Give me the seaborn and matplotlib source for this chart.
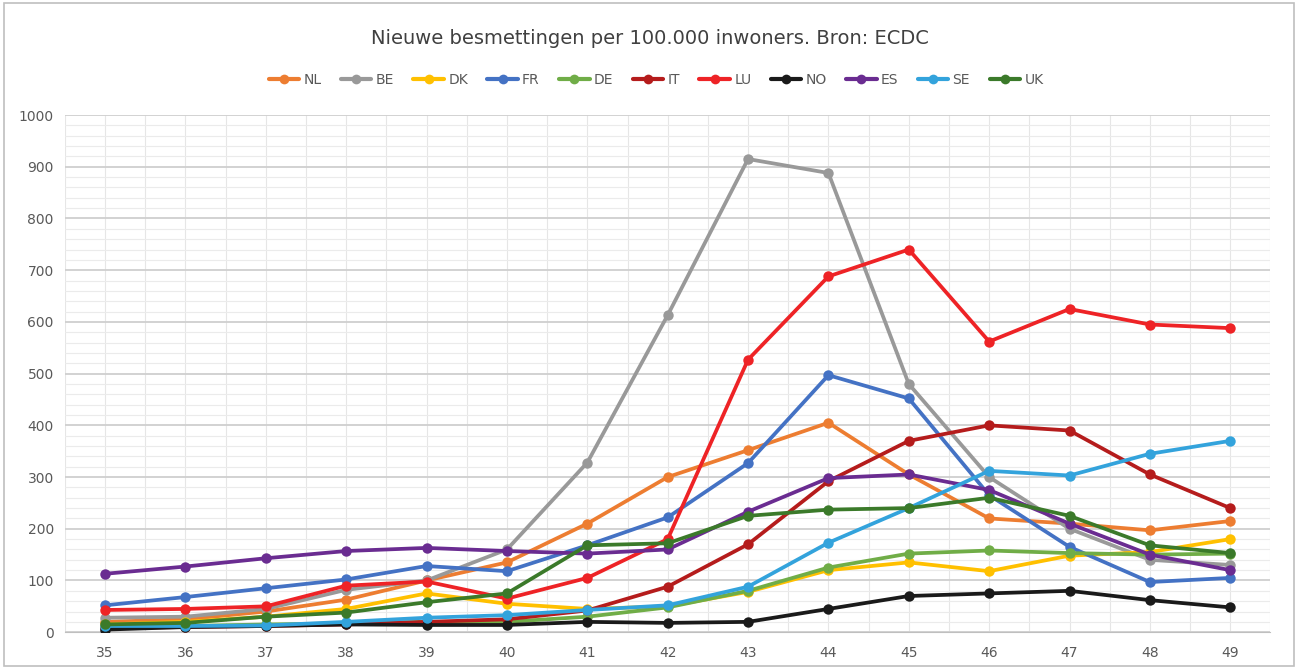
import matplotlib.pyplot as plt
import numpy as np
import pandas as pd
import seaborn as sns
from matplotlib.patches import Rectangle
from matplotlib.ticker import MultipleLocator

weeks = list(range(35, 50))

countries = ['NL', 'BE', 'DK', 'FR', 'DE', 'IT', 'LU', 'NO', 'ES', 'SE', 'UK']

nl = [20, 25, 40, 63, 100, 135, 210, 300, 352, 405, 305, 220, 210, 197, 215]
be = [28, 30, 45, 82, 100, 160, 328, 613, 915, 888, 480, 300, 200, 140, 130]
dk = [15, 20, 30, 45, 75, 55, 45, 50, 78, 120, 135, 118, 148, 155, 180]
fr = [52, 68, 85, 102, 128, 118, 168, 222, 327, 497, 452, 265, 165, 97, 105]
de = [10, 12, 15, 17, 20, 20, 30, 48, 80, 125, 152, 158, 153, 150, 152]
it = [8, 10, 12, 15, 20, 25, 42, 88, 170, 292, 370, 400, 390, 305, 240]
lu = [43, 45, 50, 90, 98, 65, 105, 180, 527, 688, 740, 562, 625, 595, 588]
no = [5, 10, 12, 15, 14, 14, 20, 18, 20, 45, 70, 75, 80, 62, 48]
es = [113, 127, 143, 157, 163, 157, 152, 160, 233, 298, 305, 275, 210, 150, 120]
se = [12, 12, 13, 20, 28, 33, 43, 52, 88, 173, 240, 312, 303, 345, 370]
uk = [15, 18, 30, 38, 58, 75, 168, 172, 225, 237, 240, 260, 225, 168, 153]

series = [nl, be, dk, fr, de, it, lu, no, es, se, uk]

colors = ['#ED7D31', '#999999', '#FFC000', '#4472C4', '#70AD47', '#B51C1C',
          '#EE2326', '#1A1A1A', '#6A2C91', '#33A3DC', '#3B7A2A']

# long-form frame for seaborn
df = pd.DataFrame({
    'week': weeks * len(countries),
    'value': [v for s in series for v in s],
    'country': [c for c in countries for _ in weeks],
})

sns.set_style('white')
plt.rcParams['font.family'] = ['DejaVu Sans']

fig = plt.figure(figsize=(12.99, 6.69), dpi=100)
ax = fig.add_axes([0.05, 0.055, 0.928, 0.773])

sns.lineplot(data=df, x='week', y='value', hue='country', hue_order=countries,
             palette=dict(zip(countries, colors)), marker='o', markersize=7.5,
             markeredgewidth=0, linewidth=2.7, ax=ax, legend=False, zorder=3)

ax.set_xlim(34.5, 49.5)
ax.set_ylim(0, 1000)
ax.set_xticks(weeks)
ax.yaxis.set_major_locator(MultipleLocator(100))
ax.yaxis.set_minor_locator(MultipleLocator(20))
ax.xaxis.set_minor_locator(MultipleLocator(0.5))
ax.grid(which='major', axis='y', color='#CFCFCF', linewidth=1.3, zorder=0)
ax.grid(which='minor', axis='y', color='#EBEBEB', linewidth=0.8, zorder=0)
ax.grid(which='minor', axis='x', color='#E6E6E6', linewidth=0.8, zorder=0)
ax.grid(which='major', axis='x', color='#E6E6E6', linewidth=0.8, zorder=0)
ax.set_axisbelow(True)

for side in ['top', 'right', 'left']:
    ax.spines[side].set_visible(False)
ax.spines['bottom'].set_color('#BFBFBF')
ax.tick_params(axis='both', which='both', length=0, labelsize=10, labelcolor='#595959')
ax.tick_params(axis='x', pad=10)
ax.tick_params(axis='y', pad=8)
ax.set_xlabel('')
ax.set_ylabel('')

fig.text(0.5, 0.943, 'Nieuwe besmettingen per 100.000 inwoners. Bron: ECDC',
         ha='center', va='center', fontsize=14, color='#404040')

# legend row
handles = [plt.Line2D([], [], color=c, marker='o', markersize=7, linewidth=3,
                      markeredgewidth=0) for c in colors]
fig.legend(handles, countries, loc='center', bbox_to_anchor=(0.505, 0.88),
           ncol=len(countries), frameon=False, fontsize=10, handlelength=2.2,
           handletextpad=0.3, columnspacing=1.4, labelcolor='#595959')

# outer chart border
fig.add_artist(Rectangle((0.003, 0.004), 0.993, 0.992, transform=fig.transFigure,
                         fill=False, edgecolor='#BFBFBF', linewidth=1.2))

fig.savefig('out.png', dpi=100)
